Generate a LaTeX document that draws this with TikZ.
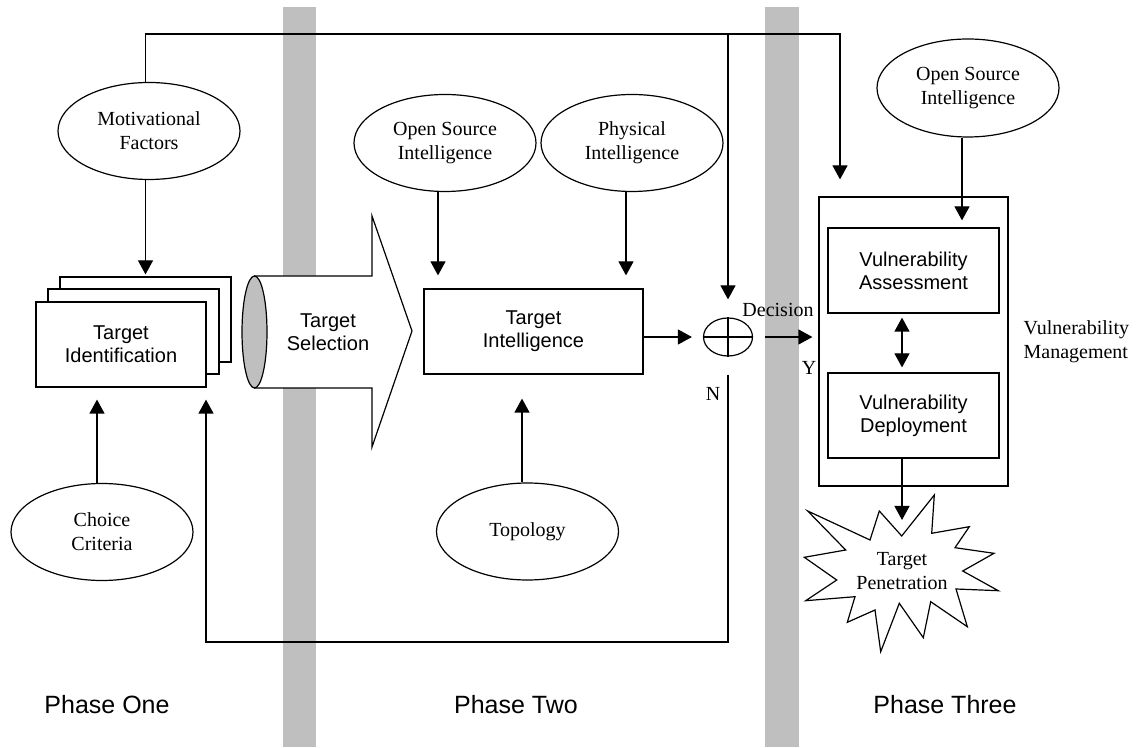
\documentclass[tikz,border=0pt]{standalone}
\usepackage{fontspec}
\setmainfont{Liberation Serif}
\newfontfamily\sansf{Liberation Sans}
\usetikzlibrary{shapes.geometric,arrows.meta}
\begin{document}
\begin{tikzpicture}[x=1pt,y=1pt,line width=1.2pt,
  arr/.style={-{Triangle[width=15pt,length=14pt]}},
  darr/.style={{Triangle[width=15pt,length=14pt]}-{Triangle[width=15pt,length=14pt]}},
  oval/.style={draw,ellipse,minimum width=182pt,minimum height=97pt,inner sep=0pt,align=center,font=\fontsize{20}{24}\selectfont},
  sbox/.style={draw,fill=white,rectangle,inner sep=0pt,align=center,font=\sansf\fontsize{20}{23}\selectfont},
  lbl/.style={inner sep=0pt,font=\fontsize{20}{24}\selectfont},
  phase/.style={inner sep=0pt,font=\sansf\fontsize{25}{28}\selectfont}]
\useasboundingbox (0,0) rectangle (1142,747);
% gray phase separators
\fill[black!25] (283,0) rectangle (316,740);
\fill[black!25] (765,0) rectangle (799,740);

% ---- phase one ----
\node[oval] (mot) at (149,616) {Motivational\\Factors};
\node[oval] (cc) at (102,215) {Choice\\Criteria};
\node[sbox,minimum width=171pt,minimum height=85pt] (tid3) at (145.5,427.5) {};
\node[sbox,minimum width=171pt,minimum height=85pt] (tid2) at (133.5,415.5) {};
\node[sbox,minimum width=170pt,minimum height=85pt] (tid) at (121,402.5) {Target\\Identification};

% ---- target selection arrow ----
\draw[fill=white] (254.5,471) -- (372,471) -- (372,531) -- (412,416) -- (372,300) -- (372,359) -- (254.5,359) -- cycle;
\draw[fill=black!25] (254.5,415) ellipse [x radius=12.5, y radius=56];
\node[lbl,font=\sansf\fontsize{20}{23}\selectfont,align=center] (tsel) at (328,415) {Target\\Selection};

% ---- phase two ----
\node[oval] (osi2) at (445,604) {Open Source\\Intelligence};
\node[oval] (phys) at (632,604) {Physical\\Intelligence};
\node[oval] (topo) at (527.5,215.5) {Topology};
\node[sbox,minimum width=219pt,minimum height=85pt] (ti) at (533.5,415.5) {Target\\Intelligence};
\node[draw,ellipse,minimum width=49pt,minimum height=38pt,inner sep=0pt] (dec) at (728,410) {};
\draw (dec.north) -- (dec.south) (dec.west) -- (dec.east);
\node[lbl] (declbl) at (778,437) {Decision};
\node[lbl] (ylbl) at (809,379) {Y};
\node[lbl] (nlbl) at (713,353) {N};

% ---- phase three ----
\node[oval,minimum height=98pt] (osi3) at (968,659) {Open Source\\Intelligence};
\node[draw,minimum width=189pt,minimum height=289pt,inner sep=0pt] (vm) at (913.5,405.5) {};
\node[sbox,minimum width=171pt,minimum height=85pt] (va) at (913.5,476.5) {Vulnerability\\Assessment};
\node[sbox,minimum width=171pt,minimum height=85pt] (vd) at (913.5,331.5) {Vulnerability\\Deployment};
\node[lbl,anchor=west,align=left] (vmlbl) at (1023,405) {Vulnerability\\Management};
\draw[fill=white] (807.7,236) -- (870,207) -- (879.3,236) -- (901.7,211) -- (934.3,252) -- (931.7,213.7) -- (969.3,220.3) -- (955,199.3) -- (994,193.7) -- (962.7,176) -- (998.3,156.3) -- (956,158) -- (967.3,120.3) -- (930.7,145.3) -- (923.3,109.3) -- (899.3,143.7) -- (880.7,95.3) -- (875,137) -- (847.3,124.7) -- (855,150.3) -- (805.7,146.3) -- (836.7,167) -- (804.3,189.7) -- (845.7,197) -- cycle;
\node[lbl,align=center] (tp) at (902,176) {Target\\Penetration};

\node[phase] (p1) at (107,42) {Phase One};
\node[phase] (p2) at (516,42) {Phase Two};
\node[phase] (p3) at (945,42) {Phase Three};

% ---- connectors ----
\coordinate (tl) at (145.5,713);
\coordinate (tj) at (728,713);
\coordinate (tr) at (840,713);
\coordinate (fb) at (206,105);
\draw[arr] (tl |- mot.north) -- (tl) -- (tr) -- ([yshift=17pt]tr |- vm.north);
\draw[arr] (tj) -- ([yshift=18pt]dec.north);
\draw[arr] (tl |- mot.south) -- ([yshift=2pt]tid3.north);
\draw[arr] (97,263.5) -- ([yshift=-12pt]97,0 |- tid.south);
\draw[arr] (438,556) -- ([yshift=13pt]438,0 |- ti.north);
\draw[arr] (626,556) -- ([yshift=13pt]626,0 |- ti.north);
\draw[arr] (topo.north -| 522,0) -- ([yshift=-24pt]522,0 |- ti.south);
\draw[arr] (ti.east |- dec.west) -- ([xshift=-11pt]dec.west);
\draw[arr] ([xshift=12pt]dec.east) -- ([xshift=-6pt]vm.west |- dec.east);
\draw[arr] ([yshift=-18pt]dec.south) -- (dec.south |- fb) -- (fb) -- ([yshift=-12pt]fb |- tid.south);
\draw[arr] (osi3.south -| 962,0) -- ([yshift=7pt]962,0 |- va.north);
\draw[darr] ([yshift=-4pt]902,0 |- va.south) -- ([yshift=5pt]902,0 |- vd.north);
\draw[arr] (vd.south -| 902,0) -- (902,227);
\end{tikzpicture}
\end{document}
